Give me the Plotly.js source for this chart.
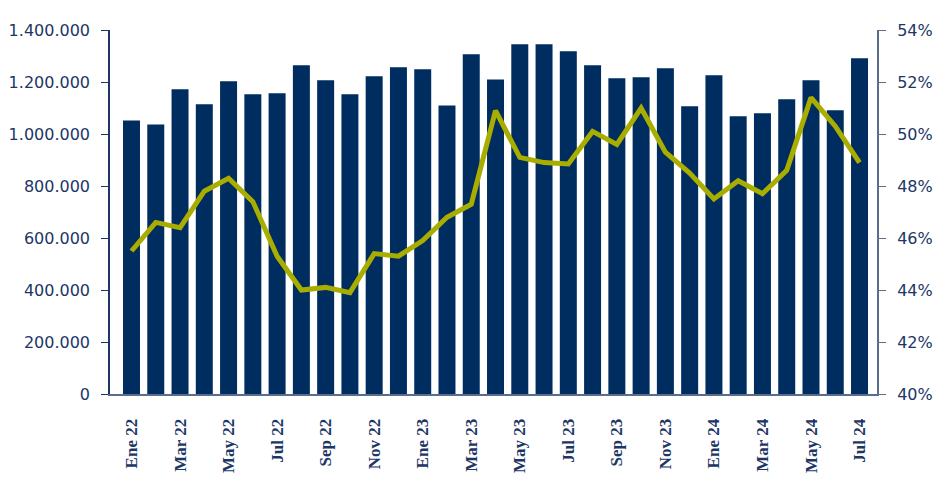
<!DOCTYPE html>
<html>
<head>
<meta charset="utf-8">
<script src="https://cdn.plot.ly/plotly-3.0.1.min.js"></script>
<style>
  html, body { margin:0; padding:0; background:#fff; }
  #chart { width:942px; height:478px; }
</style>
</head>
<body>
<div id="chart"></div>
<script>
// ── Data ─────────────────────────────────────────────────────────────────────
const months = [
  'Ene 22','Feb 22','Mar 22','Abr 22','May 22','Jun 22','Jul 22','Ago 22','Sep 22','Oct 22','Nov 22','Dic 22',
  'Ene 23','Feb 23','Mar 23','Abr 23','May 23','Jun 23','Jul 23','Ago 23','Sep 23','Oct 23','Nov 23','Dic 23',
  'Ene 24','Feb 24','Mar 24','Abr 24','May 24','Jun 24','Jul 24'
];
const volumen = [
  1052000, 1037000, 1172000, 1114000, 1203000, 1153000, 1157000, 1264000, 1207000, 1153000, 1222000, 1257000,
  1249000, 1110000, 1307000, 1210000, 1345000, 1345000, 1318000, 1264000, 1214000, 1218000, 1253000, 1107000,
  1226000, 1068000, 1080000, 1134000, 1207000, 1091000, 1291000
];
const porcentaje = [
  45.5, 46.6, 46.4, 47.8, 48.3, 47.4, 45.3, 44.0, 44.1, 43.9, 45.4, 45.3,
  45.9, 46.8, 47.3, 50.9, 49.1, 48.9, 48.85, 50.1, 49.6, 51.0, 49.3, 48.5,
  47.5, 48.2, 47.7, 48.6, 51.4, 50.3, 48.9
];
const tickMonths = months.filter((m, i) => i % 2 === 0);

// ── Styles ───────────────────────────────────────────────────────────────────
const NAVY  = '#002d5f';
const OLIVE = '#a9ad00';
const TXT   = '#1c3666';
const SLATE = '#5a6e8c';

const bars = {
  type:'bar', x:months, y:volumen, name:'Volumen',
  marker:{ color:NAVY }, yaxis:'y',
  hoverinfo:'x+y',
};
const line = {
  type:'scatter', mode:'lines', x:months, y:porcentaje, name:'%',
  line:{ color:OLIVE, width:5 }, yaxis:'y2',
};

Plotly.newPlot('chart', [bars, line], {
  width:942, height:478,
  paper_bgcolor:'#fff', plot_bgcolor:'#fff',
  separators:',.',
  showlegend:false,
  bargap:0.3,
  margin:{ t:30, r:65, b:84, l:110 },
  font:{ family:'DejaVu Sans, sans-serif', color:TXT, size:16 },
  xaxis:{
    type:'category', range:[-0.886, 30.72],
    tickmode:'array', tickvals:tickMonths, ticktext:tickMonths,
    tickangle:-90, ticks:'', ticklabelstandoff:16,
    tickfont:{ family:'Liberation Serif, serif', size:17, color:TXT, weight:'bold' },
    showline:true, linecolor:SLATE, linewidth:2, showgrid:false, zeroline:false,
  },
  yaxis:{
    range:[0, 1400000], dtick:200000, tickformat:',d',
    ticks:'outside', ticklen:7, tickcolor:TXT, ticklabelstandoff:8,
    showline:true, linecolor:TXT, linewidth:1.5,
    showgrid:false, zeroline:false,
  },
  yaxis2:{
    overlaying:'y', side:'right',
    range:[40, 54], dtick:2, ticksuffix:'%',
    ticks:'outside', ticklen:7, tickcolor:SLATE, ticklabelstandoff:8,
    showline:true, linecolor:SLATE, linewidth:2,
    showgrid:false, zeroline:false,
  },
}, { displayModeBar:false, responsive:false });
</script>
</body>
</html>
